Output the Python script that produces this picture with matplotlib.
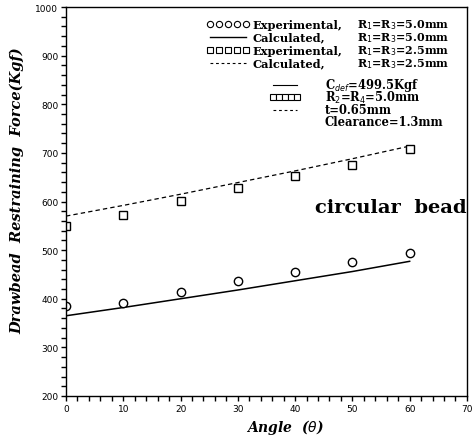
import matplotlib as mpl
import matplotlib.pyplot as plt
from matplotlib.lines import Line2D
from matplotlib.ticker import MultipleLocator

mpl.use('Agg')

# angles (deg)
angle = [0, 10, 20, 30, 40, 50, 60]

# R1=R3=5.0mm
exp_50 = [386, 391, 414, 437, 454, 476, 494]
calc_50 = [365, 382, 400, 418, 437, 456, 477]

# R1=R3=2.5mm
exp_25 = [550, 573, 601, 628, 652, 675, 707]
calc_25 = [570, 592, 615, 639, 663, 688, 714]

serif = 'DejaVu Serif'

fig = plt.figure(figsize=(4.75, 4.39), dpi=100)
ax = fig.add_axes([0.139, 0.0957, 0.844, 0.886])

ax.plot(angle, calc_50, color='black', lw=1.1)
ax.plot(angle, calc_25, color='black', lw=0.9, ls=(0, (3.5, 2.5)))
ax.plot(angle, exp_50, ls='none', marker='o', ms=6, mfc='white', mec='black', mew=1.0)
ax.plot(angle, exp_25, ls='none', marker='s', ms=5.5, mfc='white', mec='black', mew=1.0)

ax.set_xlim(0, 70)
ax.set_ylim(200, 1000)
ax.xaxis.set_major_locator(MultipleLocator(10))
ax.xaxis.set_minor_locator(MultipleLocator(2))
ax.yaxis.set_major_locator(MultipleLocator(100))
ax.yaxis.set_minor_locator(MultipleLocator(20))
ax.tick_params(which='both', direction='out', length=3.5, width=1.0, labelsize=6.5, pad=2)
for s in ax.spines.values():
    s.set_linewidth(1.0)

ax.set_xlabel('Angle  ($\\theta$)', fontfamily=serif, fontweight='bold', fontstyle='italic', fontsize=10)
ax.xaxis.set_label_coords(0.546, -0.055)
ax.set_ylabel('Drawbead  Restraining  Force(Kgf)', fontfamily=serif, fontweight='bold', fontstyle='italic', fontsize=10.5)
ax.yaxis.set_label_coords(-0.105, 0.53)

ax.text(43.5, 589, 'circular  bead', fontfamily=serif, fontweight='bold', fontsize=14, va='center', ha='left')

# first legend block: sample glyphs from a legend, texts beside them
h1 = [
    Line2D([], [], ls='none', marker='o', ms=4.5, mfc='white', mec='black', mew=0.8),
    Line2D([], [], color='black', lw=1.0),
    Line2D([], [], ls='none', marker='s', ms=4, mfc='white', mec='black', mew=0.8),
    Line2D([], [], color='black', lw=0.8, ls=(0, (2.5, 2.5))),
]
leg1 = ax.legend(h1, [' '] * 4, loc='upper left', bbox_to_anchor=(0.350, 0.970), frameon=False,
                 numpoints=5, handlelength=3.9, handletextpad=0.0, labelspacing=0.18,
                 borderpad=0, borderaxespad=0,
                 prop={'family': serif, 'weight': 'bold', 'size': 8})
ax.add_artist(leg1)

row_y1 = [965, 938, 911.5, 885]
names = ['Experimental,', 'Calculated,', 'Experimental,', 'Calculated,']
r_texts = ['R$_1$=R$_3$=5.0mm', 'R$_1$=R$_3$=5.0mm', 'R$_1$=R$_3$=2.5mm', 'R$_1$=R$_3$=2.5mm']
for n, t, yy in zip(names, r_texts, row_y1):
    ax.text(32.6, yy, n, fontfamily=serif, fontweight='bold', fontsize=8.2, va='center')
    ax.text(50.8, yy, t, fontfamily=serif, fontweight='bold', fontsize=8.0, va='center')

# second legend block
h2 = [
    Line2D([], [], color='black', lw=0.8),
    Line2D([], [], ls='none', marker='s', ms=4, mfc='white', mec='black', mew=0.8),
    Line2D([], [], color='black', lw=0.8, ls=(0, (2.5, 2.5))),
    Line2D([], [], ls='none'),
]
ax.legend(h2, [' '] * 4, loc='upper left', bbox_to_anchor=(0.509, 0.813), frameon=False,
          numpoints=5, handlelength=2.7, handletextpad=0.0, labelspacing=0.12,
          borderpad=0, borderaxespad=0,
          prop={'family': serif, 'weight': 'bold', 'size': 8})

row_y2 = [840, 815, 789.5, 764]
l2 = ['C$_{def}$=499.5Kgf', 'R$_2$=R$_4$=5.0mm', 't=0.65mm', 'Clearance=1.3mm']
for t, yy in zip(l2, row_y2):
    ax.text(45.2, yy, t, fontfamily=serif, fontweight='bold', fontsize=8.3, va='center')

fig.savefig('out.png', dpi=100)
